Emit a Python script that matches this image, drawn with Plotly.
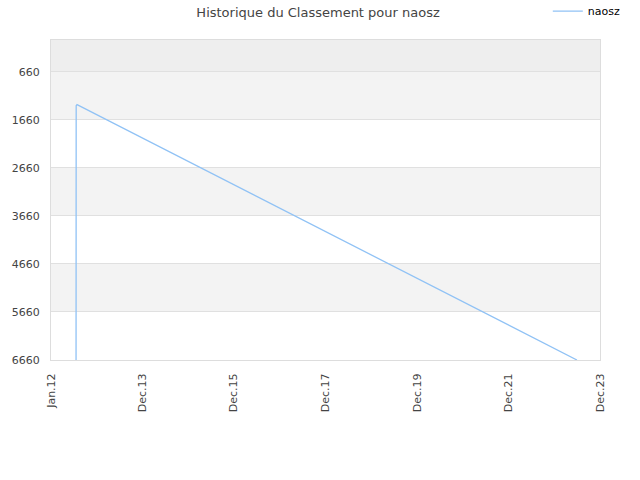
import plotly.graph_objects as go

# classement de naosz dans le temps
dates = ["2012-07-19", "2012-07-20", "2012-07-27", "2023-06-30"]
ranks = [6660, 1370, 1345, 6660]

tick_dates = ["2012-01-01", "2013-12-31", "2015-12-31", "2017-12-31",
              "2019-12-31", "2021-12-31", "2023-12-31"]
tick_labels = ["Jan.12", "Dec.13", "Dec.15", "Dec.17", "Dec.19", "Dec.21", "Dec.23"]
y_ticks = [660, 1660, 2660, 3660, 4660, 5660, 6660]

fig = go.Figure()
fig.add_trace(go.Scatter(x=dates, y=ranks, mode="lines", name="naosz",
                         line=dict(color="#90c2f5", width=1.3)))

# bandes de fond alternées
bands = [(0, 660, "#eeeeee"), (660, 1660, "#f3f3f3"), (2660, 3660, "#f3f3f3"),
         (4660, 5660, "#f3f3f3")]
for y0, y1, c in bands:
    fig.add_shape(type="rect", xref="paper", yref="y", x0=0, x1=1, y0=y0, y1=y1,
                  fillcolor=c, line_width=0, layer="below")

fig.update_layout(
    width=640, height=480,
    margin=dict(l=51, r=40, t=40, b=120, autoexpand=False),
    paper_bgcolor="white", plot_bgcolor="white",
    font=dict(family="DejaVu Sans", size=11, color="#444444"),
    title=dict(text="Historique du Classement pour naosz", x=0.497, y=0.975,
               xanchor="center", yanchor="middle",
               font=dict(size=13, color="#444444")),
    showlegend=True,
    legend=dict(x=1.047, y=1.09, xanchor="right", yanchor="middle",
                font=dict(size=11, color="black"), bgcolor="rgba(0,0,0,0)"),
    xaxis=dict(type="date", range=["2012-01-01", "2023-12-31"],
               tickmode="array", tickvals=tick_dates, ticktext=tick_labels,
               tickangle=-90, showgrid=False, zeroline=False,
               showline=True, linecolor="#dddddd", mirror=True,
               ticks="", ticklabelstandoff=8,
               tickfont=dict(size=11, color="#444444")),
    yaxis=dict(range=[6660, 0], tickmode="array", tickvals=y_ticks,
               showgrid=True, gridcolor="#e0e0e0", zeroline=False,
               showline=True, linecolor="#dddddd", mirror=True,
               ticks="", ticklabelstandoff=8,
               tickfont=dict(size=11, color="#444444")),
)

# enlever la marge du body pour caler la figure en haut à gauche
fig.write_html("out.html", config={"displayModeBar": False},
               post_script="document.body.style.margin='0';")
